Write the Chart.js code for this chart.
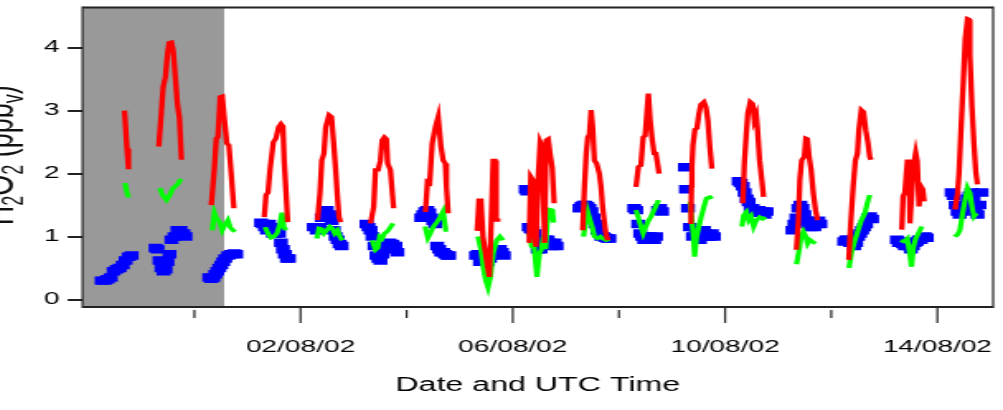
<!DOCTYPE html>
<html><head><meta charset="utf-8">
<script src="https://cdn.jsdelivr.net/npm/chart.js@4/dist/chart.umd.min.js"></script>
<style>
html,body{margin:0;padding:0;background:#fff;overflow:hidden;width:1003px;height:410px;}
#wrap{position:absolute;left:0;top:0;width:620px;height:410px;transform-origin:0 0;transform:translate(-20px,0) scale(1.65,1);}
canvas{display:block;}
</style></head><body>
<div id="wrap"><canvas id="c" width="620" height="410"></canvas></div>
<script>
// Time in hours since 31/07/02 00:00 UTC; one inner array per daily segment
const redHours = [
 [-31.6,-31.05,-30.5,-29.8],
 [-16.1,-15.2,-14.1,-13.05,-12.15,-11.4,-10.35,-9.6,-8.55,-7.65,-6.75,-5.85],
 [7.65,9.1,9.9,10.65,11.7,12.6,13.6,14.7,15.6,16.65,17.85],
 [31.6,32.4,33.3,34.2,35.7,36.9,38.1,39.15,40.05,40.6,41.4,42.2],
 [55.7,56.8,57.6,58.6,59.4,60.9,62.0,63.1,63.9,64.7,65.4,66.15],
 [79.65,81.1,81.9,83.1,84.15,84.9,85.95,86.85,87.4,88.65,89.4,90.1],
 [104.5,105.4,106.4,107.55,109.0,110.25,111.5,112.5,113.5,114.0,114.75],
 [127.9,128.7,129.6,130.5,131.4,132.6,133.4,134.3,135.1,135.9,136.5,137.5,138.4],
 [151.4,152.1,153,153.7,154.5,155.5,156.4,157.05,157.7,158.4,159.1,160.0,160.9,161.8,162.7],
 [175.6,176.4,177.2,177.9,178.65,179.4,180.1,180.9,181.9,183.15,183.9,184.6,185.85,186.9],
 [199.7,200.8,201.9,202.95,203.85,204.6,205.3,206.1,206.9,207.9,208.7,209.5,210.15],
 [224.55,224.8,225,225.45,226.35,227.25,228.15,229.05,230.4,231.3,232.2,233.1,234],
 [248.1,248.7,249.6,250.3,251.4,252.45,253.2,254.1,254.7,255.6,256.6,257.4],
 [272.25,273.15,273.8,274.6,275.85,276.5,277.2,278,278.9,279.9,280.9,281.85],
 [295.9,296.9,297.9,298.9,299.85,300.5,301.6,302.6,303.6,304.65,305.4,306],
 [319.9,320.5,321.3,322.4,323.1,323.6,324.7,325.4,326.2,326.9,327.7,328.5,329.4,330],
 [344,345.1,345.8,346.6,347.7,348.6,349.6,350.3,350.7,351.6,352.6,353.4,354.15]
];
const redValues = [
 [3.0,2.7,2.4,2.07],
 [2.43,2.85,3.38,3.54,3.91,4.08,4.09,3.96,3.5,3.1,2.88,2.22],
 [1.5,2.11,2.56,2.58,3.22,3.23,2.85,2.48,2.45,2.0,1.45],
 [1.31,1.66,1.7,2.06,2.5,2.56,2.74,2.79,2.75,2.21,1.74,1.23],
 [1.26,1.69,2.21,2.32,2.74,2.93,2.9,2.43,2.06,1.63,1.31,1.23],
 [1.21,1.47,2.06,2.06,2.21,2.53,2.58,2.55,2.16,2.06,1.74,1.45],
 [1.39,1.87,1.85,2.48,2.74,2.9,2.43,2.21,2.16,1.79,1.37],
 [1.09,1.58,1.58,1.0,0.79,0.52,0.36,1.3,2.21,2.21,1.26,1.26,1.26],
 [0.9,1.95,1.9,1.05,0.84,1.95,2.5,2.45,1.8,0.9,2.53,2.55,2.3,2.1,1.53],
 [1.1,1.79,2.32,2.58,2.62,3.01,2.74,2.21,2.16,2.0,1.79,1.47,1.1,0.94],
 [1.79,2.11,2.13,2.58,2.6,2.96,3.27,2.85,2.58,2.32,2.32,2.15,2.0],
 [1.2,1.8,2.1,2.45,2.7,2.72,2.95,3.1,3.14,3.06,2.85,2.43,2.08],
 [1.53,2.16,2.64,2.96,3.14,3.11,2.85,2.93,2.69,2.21,1.9,1.63],
 [0.79,1.26,1.9,2.21,2.27,2.56,2.55,2.27,2.06,1.69,1.42,1.26],
 [0.63,1.26,1.79,2.21,2.32,2.69,3.01,2.98,2.69,2.48,2.27,2.22],
 [1.11,1.64,1.7,2.2,2.2,1.21,1.85,2.17,2.33,2.2,1.48,1.8,1.75,1.56],
 [1.43,1.69,2.01,2.65,3.45,4.14,4.46,4.45,3.88,3.08,2.44,2.01,1.83]
];
const greenHours = [
 [-31.4,-30.6,-29.8],
 [-15.6,-14.4,-12.6,-11.25,-9.6,-8.55,-7.35,-6.15],
 [8.1,9.1,10.1,11.25,12.6,13.7,15.15,16.2,17.4,18.6],
 [31.95,33.3,34.65,36,37.35,38.7,39.6,40.5,41.4],
 [55.35,56.4,57.5,58.6,59.85,61.3,62.4,63.45,64.7,65.8,66.9],
 [80.4,81.9,82.9,83.8,84.9,85.95,87.15,88.35,89.85],
 [104.3,105.6,106.65,108.1,109.7,111.15,112.5,113.7,114.75],
 [128.25,129.6,130.6,131.7,132.8,133.9,135.1,136.7,138.15,139.6],
 [151.5,152.55,153.7,154.9,156.0,156.9,157.95,158.85,159.5,160.65,161.9,162.45],
 [175.95,176.85,177.9,178.95,179.9,180.9,182.4,183.6,184.6,186.2,187.65],
 [199.7,200.8,201.9,202.95,204.2,205.3,206.4,207.9,208.9,209.9],
 [224.1,224.7,225.6,226.2,227.1,228.15,229.2,230.4,231.6,233.1,234],
 [247.6,248.4,249.6,250.65,251.8,252.9,254,255.6,256.95,258.3],
 [272.3,273.5,274.4,275.4,276.3,277.3,278.3,279.45,280.9],
 [296,297.1,298.7,300.15,301.6,303.2,304.3,305.4],
 [319.4,320.85,322.4,323.5,324.3,325.2,326.2,327.4,328.95],
 [343.8,345.1,346.2,347.4,348.6,349.6,350.7,351.6,352.6,353.7]
];
const greenValues = [
 [1.85,1.72,1.62],
 [1.77,1.66,1.58,1.65,1.77,1.8,1.84,1.92],
 [1.1,1.37,1.28,1.25,1.1,1.18,1.26,1.15,1.1,1.08],
 [1.15,1.05,0.98,1.0,1.05,1.2,1.38,1.15,1.1],
 [0.97,1.13,1.12,1.05,1.1,1.16,1.13,1.05,1.1,1.0,0.94],
 [0.94,0.79,0.82,1.0,0.97,1.05,1.08,1.13,1.21],
 [1.16,0.98,1.05,1.16,1.23,1.31,1.4,1.1,1.1],
 [1.0,0.79,0.52,0.31,0.19,0.36,0.73,0.94,1.0,0.94],
 [1.05,0.84,0.82,0.36,0.73,0.79,1.02,0.8,1.2,1.43,1.42,1.22],
 [1.0,1.21,1.39,1.26,1.15,1.0,0.97,1.0,0.97,0.94,0.96],
 [1.42,1.3,1.16,1.05,1.16,1.25,1.31,1.42,1.5,1.58],
 [1.55,1.37,1.05,0.68,1.0,1.16,1.31,1.47,1.61,1.63,1.6],
 [1.16,1.34,1.39,1.26,1.32,1.16,1.25,1.31,1.28,1.31],
 [0.56,0.79,1.0,1.08,1.02,0.89,0.95,0.92,0.89],
 [0.5,0.73,0.94,1.1,1.26,1.37,1.53,1.66],
 [0.94,0.92,0.97,0.73,0.52,0.84,0.97,1.05,1.16],
 [1.0,1.03,1.1,1.37,1.59,1.77,1.69,1.48,1.32,1.37]
];
const blueHours = [
 [-41.9,-40.5,-39.2,-37.8,-36.5,-35.1,-33.8,-32.4,-31.1,-29.7,-28.4],
 [-17.55,-16.65,-15.75,-14.85,-13.95,-13.05,-12.15,-11.25,-10.35,-9.0,-7.65,-6.3,-4.95,-4.05],
 [6.75,7.65,8.55,9.45,10.35,11.25,12.15,13.05,13.95,15.3,16.65,18,18.9],
 [30.15,31.05,31.95,32.85,33.75,34.65,35.55,36.45,37.35,38.25,39.15,40.05,40.95,41.85,42.75],
 [54,55.35,56.7,57.6,58.5,59.85,61.2,62.1,63,63.9,64.8,65.7,66.6],
 [77.85,78.75,79.65,80.55,81.45,82.35,83.25,84.15,85.05,85.95,86.85,88.2,89.55,90.9,91.8],
 [102.6,103.5,104.4,105.3,106.2,107.1,108,108.9,109.8,110.7,111.6,112.5,113.4,114.3,115.2],
 [127.35,128.25,129.15,130.05,130.95,131.85,132.75,133.65,134.55,135.45,136.35,137.25,138.15,139.05,139.95],
 [149.85,150.5,151.2,152.1,153,153.9,155.25,156.6,157.95,158.85,159.75,160.65,161.55,162.9,163.8],
 [174.15,175.05,175.95,176.85,177.75,178.65,179.55,180.45,181.35,182.25,183.15,184.05,184.95,185.85,186.75,187.65],
 [198.9,199.8,200.7,201.6,202.5,203.4,204.3,205.2,206.1,207,207.9,208.8,209.7,210.6,211.5],
 [221.85,222.3,223.2,224.1,225.45,226.8,227.7,228.6,229.5,230.4,231.3,232.2,233.1,234,234.9],
 [246.15,247.05,247.95,248.85,249.75,250.65,251.55,252.45,253.35,254.25,255.15,256.05,256.95,257.85,258.75],
 [270.45,271.35,272.25,273.15,274.05,274.95,275.85,276.75,277.65,278.55,279.45,280.35,281.25,282.15,283.05],
 [293.85,294.75,295.65,296.55,297.45,298.35,299.25,300.15,301.05,301.95,302.85,303.75,304.65,305.55,306.45],
 [317.7,318.6,319.5,320.4,321.3,322.2,323.1,324,324.9,325.8,326.7,327.6,328.5,329.4,330.3,331.2],
 [342.45,343.35,344.25,345.15,346.05,346.95,347.85,348.75,349.65,350.55,351.45,352.35,353.25,354.15,355.05,355.95]
];
const blueValues = [
 [0.3,0.3,0.32,0.35,0.45,0.48,0.5,0.55,0.62,0.68,0.7],
 [0.82,0.8,0.62,0.5,0.45,0.48,0.6,0.72,0.95,1.0,1.1,1.1,1.05,1.0],
 [0.35,0.33,0.35,0.4,0.45,0.5,0.55,0.6,0.65,0.7,0.72,0.73,0.72],
 [1.22,1.2,1.15,1.1,1.2,1.15,1.05,1.05,1.1,1.05,0.9,0.8,0.72,0.65,0.65],
 [1.15,1.1,1.15,1.3,1.4,1.42,1.35,1.25,1.1,1.0,0.95,0.88,0.85],
 [1.2,1.15,1.1,1.0,0.85,0.7,0.65,0.62,0.72,0.8,0.85,0.9,0.88,0.85,0.75],
 [1.3,1.35,1.4,1.42,1.38,1.3,1.25,1.2,0.85,0.8,0.75,0.75,0.72,0.7,0.7],
 [0.7,0.72,0.6,0.62,0.65,0.68,0.6,0.65,0.7,0.72,0.78,0.8,0.8,0.75,0.7],
 [1.75,1.72,1.15,1.12,1.1,1.05,0.8,0.8,0.9,0.95,0.95,0.9,0.85,0.9,0.85],
 [1.45,1.48,1.5,1.5,1.48,1.45,1.4,1.3,1.2,1.1,1.05,1.0,1.0,0.98,0.97,0.97],
 [1.45,1.42,1.2,1.05,1.0,0.95,1.0,0.98,1.0,0.95,0.95,1.0,1.42,1.45,1.4],
 [2.1,1.75,1.45,1.15,1.0,1.1,1.05,0.95,1.0,1.1,1.05,1.0,1.0,1.05,1.0],
 [1.88,1.85,1.8,1.7,1.6,1.55,1.45,1.45,1.4,1.4,1.42,1.38,1.4,1.35,1.4],
 [1.1,1.2,1.3,1.45,1.5,1.45,1.35,1.25,1.2,1.15,1.2,1.15,1.2,1.25,1.2],
 [0.92,0.95,0.95,0.9,0.92,0.85,0.9,1.0,1.05,1.1,1.15,1.2,1.3,1.32,1.28],
 [0.95,0.9,0.92,0.88,0.85,0.9,0.85,0.8,0.85,0.9,0.92,0.95,0.95,0.98,1.0,0.98],
 [1.7,1.65,1.5,1.4,1.35,1.4,1.45,1.5,1.6,1.65,1.7,1.6,1.4,1.35,1.5,1.7]
];
const xTickHours = [0,48,96,144,192,240,288,336];
const xTickLabels = ['','02/08/02','','06/08/02','','10/08/02','','14/08/02'];
const yTicks = [0,1,2,3,4];
const xTitle = 'Date and UTC Time';
const yTitleParts = [['H',0],['2',1],['O',0],['2',1],[' (ppb',0],['v',1],[')',0]];
const shadeEndHour = 13.5;
const X_MIN = -50.6, X_MAX = 361.2, Y_MIN = -0.119, Y_MAX = 4.639;

function segs(hours, values){
  const out = [];
  hours.forEach((hs, d) => {
    hs.forEach((h, i) => out.push({x: h, y: values[d][i]}));
    out.push({x: hs[hs.length-1] + 0.01, y: null});
  });
  return out;
}

const FONT = '"Liberation Sans", Arial, Helvetica, sans-serif';

const decor = {
  id: 'decor',
  beforeDatasetsDraw(chart){
    const {ctx, chartArea: a, scales: {x}} = chart;
    const xe = x.getPixelForValue(shadeEndHour);
    ctx.save();
    ctx.fillStyle = '#999999';
    ctx.fillRect(a.left, a.top, xe - a.left, a.bottom - a.top);
    ctx.restore();
  },
  afterDraw(chart){
    const {ctx, chartArea: a, scales: {x}} = chart;
    ctx.save();
    ctx.strokeStyle = '#222';
    ctx.lineWidth = 2;
    ctx.beginPath();
    ctx.moveTo(a.left, a.top); ctx.lineTo(a.right, a.top);
    ctx.moveTo(a.left, a.bottom); ctx.lineTo(a.right, a.bottom);
    ctx.stroke();
    ctx.lineWidth = 1.2;
    ctx.beginPath();
    ctx.moveTo(a.left, a.top - 1); ctx.lineTo(a.left, a.bottom + 1);
    ctx.moveTo(a.right, a.top - 1); ctx.lineTo(a.right, a.bottom + 1);
    xTickHours.forEach((h, i) => {
      const px = x.getPixelForValue(h);
      const major = xTickLabels[i] !== '';
      ctx.moveTo(px, a.bottom + (major ? 1 : 3));
      ctx.lineTo(px, a.bottom + (major ? 16 : 11));
    });
    ctx.stroke();
    // y axis title with subscripts
    const fs = 27;
    const cy = (a.top + a.bottom) / 2 - 2;
    ctx.fillStyle = '#111';
    ctx.translate(20, cy);
    ctx.rotate(-Math.PI / 2);
    let total = 0;
    yTitleParts.forEach(([t, sub]) => {
      ctx.font = (sub ? Math.round(fs*0.68) : fs) + 'px ' + FONT;
      total += ctx.measureText(t).width;
    });
    let pos = -total / 2;
    yTitleParts.forEach(([t, sub]) => {
      ctx.font = (sub ? Math.round(fs*0.68) : fs) + 'px ' + FONT;
      ctx.fillText(t, pos, sub ? fs*0.22 : 0);
      pos += ctx.measureText(t).width;
    });
    ctx.restore();
  }
};

new Chart(document.getElementById('c'), {
  type: 'line',
  data: {
    datasets: [
      {data: segs(redHours, redValues), borderColor: '#ff0000', borderWidth: 3.3, pointRadius: 0, spanGaps: false, fill: false, tension: 0},
      {data: segs(greenHours, greenValues), borderColor: '#00ff00', borderWidth: 3.2, pointRadius: 0, spanGaps: false, fill: false, tension: 0},
      {data: segs(blueHours, blueValues), showLine: false, pointStyle: 'rect', pointRadius: 6, pointBackgroundColor: '#0000ff', pointBorderWidth: 0, borderColor: '#0000ff'}
    ]
  },
  options: {
    responsive: false, animation: false, devicePixelRatio: 1,
    layout: {padding: {top: 7.5, right: 3, left: 0, bottom: 0}},
    plugins: {legend: {display: false}, tooltip: {enabled: false}},
    scales: {
      x: {
        type: 'linear', min: X_MIN, max: X_MAX,
        afterBuildTicks: s => { s.ticks = xTickHours.map(v => ({value: v})); },
        afterFit: s => { s.height = 103; s.paddingLeft = 0; s.paddingRight = 0; },
        ticks: {callback: (v, i) => xTickLabels[i], autoSkip: false, maxRotation: 0, color: '#000', font: {family: FONT, size: 17}, padding: 14},
        grid: {drawOnChartArea: false, drawTicks: true, tickLength: 16, color: 'rgba(0,0,0,0)'},
        border: {display: false},
        title: {display: true, text: xTitle, color: '#000', font: {family: FONT, size: 19.5}, padding: {top: 0, bottom: 13}}
      },
      y: {
        min: Y_MIN, max: Y_MAX,
        afterBuildTicks: s => { s.ticks = yTicks.map(v => ({value: v})); },
        afterFit: s => { s.width = 62.1; s.paddingTop = 0; s.paddingBottom = 0; },
        ticks: {color: '#000', font: {family: FONT, size: 17}, padding: 5},
        grid: {drawOnChartArea: false, drawTicks: true, tickLength: 9, color: '#222', lineWidth: 2},
        border: {display: false}
      }
    }
  },
  plugins: [decor]
});
</script>
</body></html>
